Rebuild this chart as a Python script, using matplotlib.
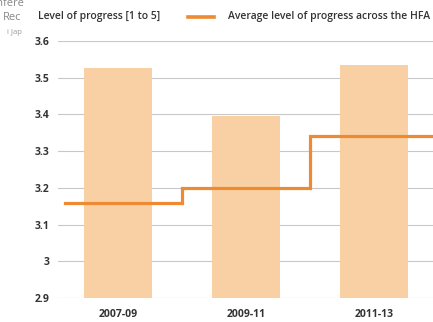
import matplotlib
matplotlib.use("Agg")
import matplotlib.pyplot as plt

periods = ["2007-09", "2009-11", "2011-13"]
progress = [3.527, 3.397, 3.535]
hfa_average = [3.16, 3.20, 3.34]

BAR = "#F9D0A3"
LINE = "#EE8A32"
TXT = "#333333"

fig = plt.figure(figsize=(4.33, 3.22), dpi=100)
ax = fig.add_axes([58 / 433, 24 / 322, 380 / 433, 257 / 322])

x = list(range(len(periods)))
ax.bar(x, progress, width=0.535, color=BAR, zorder=2)

# step line: each period's average spans half a slot either side of its bar
sx, sy = [], []
for i, v in enumerate(hfa_average):
    sx += [i - 0.5 if i else -0.415, i + 0.5]
    sy += [v, v]
sx[-1] = 2.6
ax.plot(sx, sy, color=LINE, lw=2.3, zorder=3, solid_joinstyle="miter")

ax.set_ylim(2.9, 3.6)
ax.set_xlim(-0.47, 2.5)
ax.set_yticks([2.9, 3.0, 3.1, 3.2, 3.3, 3.4, 3.5, 3.6])
ax.set_yticklabels(["2.9", "3", "3.1", "3.2", "3.3", "3.4", "3.5", "3.6"])
ax.set_xticks(x)
ax.set_xticklabels(periods)
ax.grid(True, axis="y", color="#c8c8c8", lw=0.8, zorder=0)
for s in ax.spines.values():
    s.set_visible(False)
ax.tick_params(axis="both", length=0, labelsize=7.5, labelcolor=TXT, pad=6)
ax.tick_params(axis="x", pad=8)
for lab in ax.get_xticklabels() + ax.get_yticklabels():
    lab.set_fontfamily("Open Sans")
    lab.set_fontweight("bold")

# header row
fig.text(38 / 433, 1 - 17 / 322, "Level of progress [1 to 5]", fontsize=7.5,
         color=TXT, fontfamily="Open Sans", fontweight="semibold", va="center")
fig.add_artist(plt.Line2D([188 / 433, 214 / 433], [1 - 17 / 322] * 2,
                          color=LINE, lw=2.6))
fig.text(228 / 433, 1 - 17 / 322, "Average level of progress across the HFA",
         fontsize=7.5, color=TXT, fontfamily="Open Sans", fontweight="semibold",
         va="center")

# fragments of the neighbouring panel's text
fig.text(25 / 433, 1 - 4 / 322, "Infere", fontsize=8, color="#888888",
         fontfamily="Open Sans", ha="right", va="center")
fig.text(21 / 433, 1 - 17 / 322, "Rec", fontsize=8, color="#888888",
         fontfamily="Open Sans", ha="right", va="center")
fig.text(22 / 433, 1 - 33 / 322, "i Jap", fontsize=5.5, color="#999999",
         fontfamily="Open Sans", ha="right", va="center")

fig.savefig("out.png", dpi=100)
